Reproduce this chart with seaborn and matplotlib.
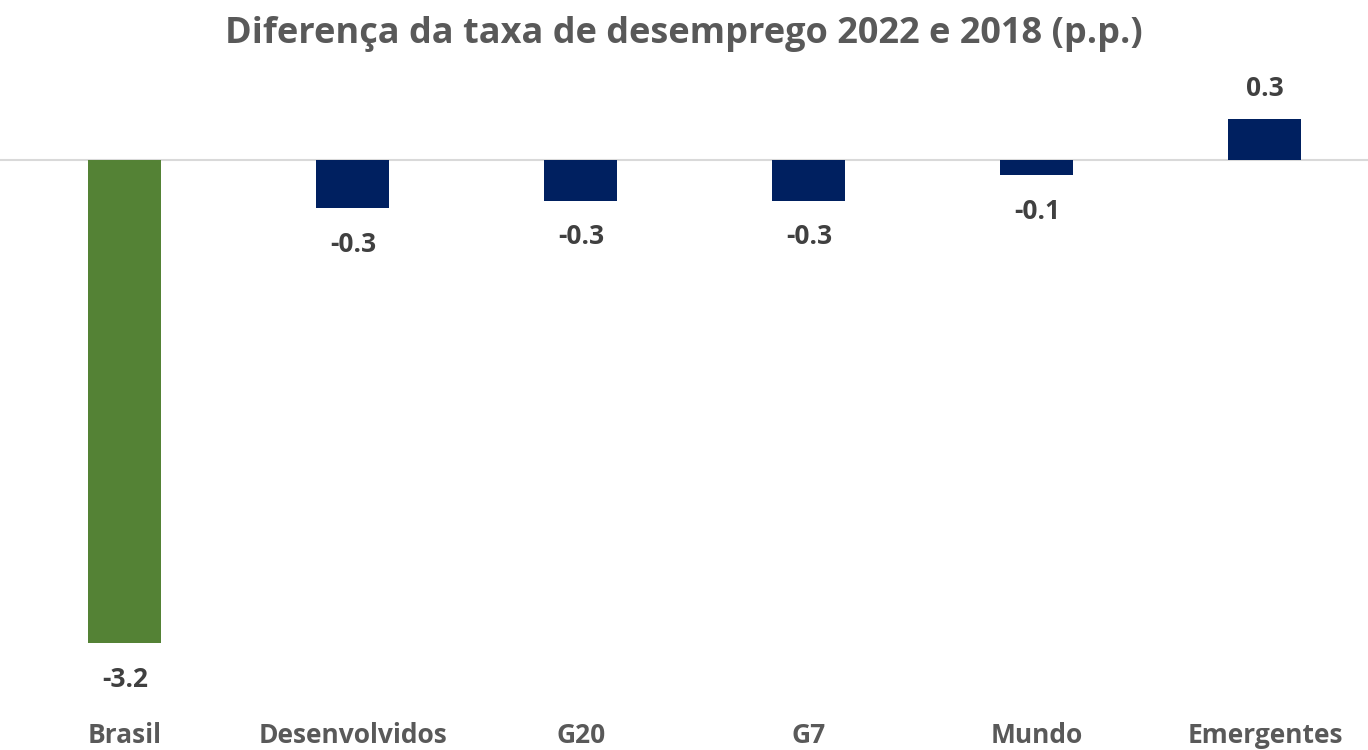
import pandas as pd
import matplotlib.pyplot as plt
import seaborn as sns

# Values (p.p.)
categories = ["Brasil", "Desenvolvidos", "G20", "G7", "Mundo", "Emergentes"]
values = [-3.2, -0.32, -0.27, -0.27, -0.1, 0.27]
bar_colors = ["#548235", "#002060", "#002060", "#002060", "#002060", "#002060"]

df = pd.DataFrame({"regiao": categories, "diferenca": values})

sns.set_style("white")
plt.rcParams["font.family"] = ["Open Sans", "DejaVu Sans"]

fig = plt.figure(figsize=(13.68, 7.5), dpi=100)
ax = fig.add_axes([0.0, 0.0667, 1.0, 0.80])

sns.barplot(
    data=df, x="regiao", y="diferenca", hue="regiao",
    palette=bar_colors, width=0.32, saturation=1, linewidth=0,
    legend=False, ax=ax,
)

ax.set_xlim(-0.548, 5.452)
ax.set_ylim(-3.576, 0.397)
ax.axhline(0, color="#D9D9D9", linewidth=1.5, zorder=0)

# data labels
for i, v in enumerate(values):
    off = 22 if v > 0 else -26
    ax.annotate(f"{v:.1f}", (i, v), xytext=(0, off), textcoords="offset points",
                ha="center", va="center", fontsize=19, fontweight="bold",
                color="#404040")

ax.set_xlabel("")
ax.set_ylabel("")
ax.set_yticks([])
ax.tick_params(axis="x", length=0, pad=16, labelsize=19, labelcolor="#595959")
for lbl in ax.get_xticklabels():
    lbl.set_fontweight("bold")
sns.despine(ax=ax, left=True, bottom=True)

fig.suptitle("Diferença da taxa de desemprego 2022 e 2018 (p.p.)", y=0.978,
             fontsize=26, fontweight="bold", color="#595959")

plt.savefig("out.png", dpi=100)
